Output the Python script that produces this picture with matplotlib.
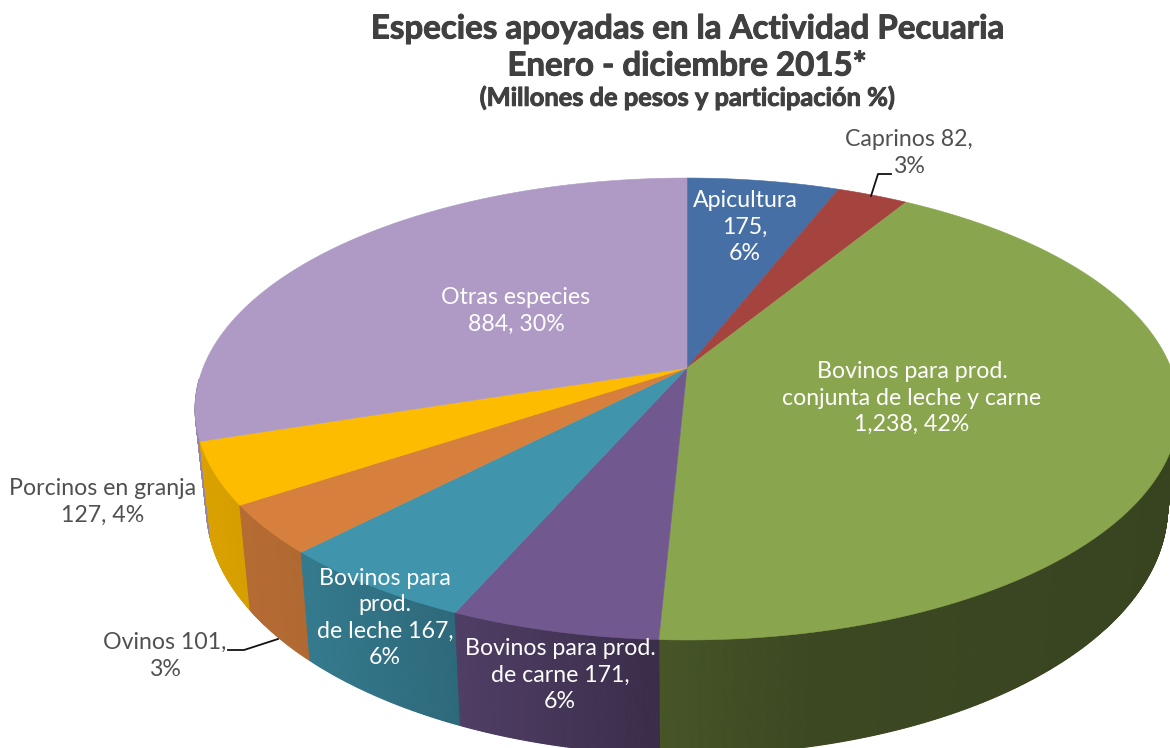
"""Especies apoyadas en la Actividad Pecuaria, 3D pie drawn with a perspective map."""

import numpy as np
import matplotlib
matplotlib.use("Agg")
import matplotlib.pyplot as plt
import matplotlib.patheffects as pe

categories = ["Apicultura", "Caprinos", "Bovinos para prod. conjunta de leche y carne",
              "Bovinos para prod. de carne", "Bovinos para prod. de leche",
              "Ovinos", "Porcinos en granja", "Otras especies"]
values = [175, 82, 1238, 171, 167, 101, 127, 884]
percents = [6, 3, 42, 6, 6, 3, 4, 30]
colors = ["#4670A5", "#A5433F", "#89A54E", "#71588F", "#4095AD", "#D7803D", "#FDBC00", "#AE9AC5"]

# perspective of the disc, in pixels of the 1170x748 image
CX, CY = 687, 368
A, B, P = 484, 223.7, 0.1775
SIDE_SX, SIDE_DY, SIDE_SY = 0.977, 463, 1.073
SHADE_X = [200, 300, 460, 650, 800, 1170]
SHADE_F = [0.86, 0.82, 0.70, 0.52, 0.44, 0.41]


def top_xy(t):
    # t in radians clockwise from 12 o'clock
    u, v = np.sin(t), -np.cos(t)
    d = 1 - P * v
    return CX + A * u / d, CY + B * v / d


def side_xy(t):
    x, y = top_xy(t)
    return CX + SIDE_SX * (x - CX), SIDE_DY + SIDE_SY * (y - CY)


def shade(color, f):
    return tuple(c * f for c in matplotlib.colors.to_rgb(color))


def main():
    plt.rcParams["font.family"] = ["Lato", "DejaVu Sans"]
    fig = plt.figure(figsize=(11.7, 7.48), dpi=100)
    ax = fig.add_axes([0, 0, 1, 1])
    ax.set_xlim(0, 1170)
    ax.set_ylim(748, 0)
    ax.axis("off")

    edges = np.concatenate([[0], np.cumsum(values)]) / np.sum(values) * 2 * np.pi

    # side wall first, back wedges before front ones, in thin strips for the shading
    mids = (edges[:-1] + edges[1:]) / 2
    for i in np.argsort(-np.cos(mids)):
        col = colors[i]
        ts = np.linspace(edges[i], edges[i + 1], max(2, int((edges[i + 1] - edges[i]) * 240)))
        for t0, t1 in zip(ts[:-1], ts[1:]):
            if -np.cos(t0) < 0.05 and -np.cos(t1) < 0.05:
                continue  # hidden behind the top face
            x0, y0 = top_xy(np.array([t0, t1]))
            x1, y1 = side_xy(np.array([t1, t0]))
            f = np.interp((x0[0] + x0[1]) / 2, SHADE_X, SHADE_F)
            ax.fill(np.r_[x0, x1], np.r_[y0, y1], color=shade(col, f), lw=0.8)

    # top face
    for i, col in enumerate(colors):
        ts = np.linspace(edges[i], edges[i + 1], 120)
        x, y = top_xy(ts)
        ax.fill(np.r_[CX, x], np.r_[CY, y], color=col, lw=0.4)

    # leader lines
    ax.plot([871, 878, 891], [196, 174, 174], color="#111111", lw=1.3)
    ax.plot([228, 244, 278], [650, 650, 639], color="#111111", lw=1.3)

    # data labels
    fs = 16.7
    white = dict(color="white", fontsize=fs, ha="center", va="center", linespacing=1.33)
    grey = dict(color="#505050", fontsize=fs, ha="center", va="center", linespacing=1.33)
    ax.text(745, 227, f"{categories[0]}\n{values[0]},\n{percents[0]}%", **white)
    ax.text(909, 153, f"{categories[1]} {values[1]},\n{percents[1]}%", **grey)
    ax.text(912, 398, f"Bovinos para prod.\nconjunta de leche y carne\n{values[2]:,}, {percents[2]}%", **white)
    ax.text(560, 675, f"Bovinos para prod.\nde carne {values[3]},\n{percents[3]}%", **white)
    ax.text(385, 618, f"Bovinos para\nprod.\nde leche {values[4]},\n{percents[4]}%", **white)
    ax.text(165, 656, f"{categories[5]} {values[5]},\n{percents[5]}%", **grey)
    ax.text(103, 502, f"{categories[6]}\n{values[6]}, {percents[6]}%", **grey)
    ax.text(516, 311, f"{categories[7]}\n{values[7]}, {percents[7]}%", **white)

    # title, thickened a little since the original face is heavier than Lato Bold
    title = "#404040"
    heavy = [pe.withStroke(linewidth=0.7, foreground=title)]
    ax.text(687, 29, "Especies apoyadas en la Actividad Pecuaria", color=title, fontsize=23.8,
            fontweight="bold", ha="center", va="center", path_effects=heavy)
    ax.text(687, 66, "Enero - diciembre 2015*", color=title, fontsize=23.8,
            fontweight="bold", ha="center", va="center", path_effects=heavy)
    ax.text(687, 98, "(Millones de pesos y participación %)", color=title, fontsize=18.3,
            fontweight="bold", ha="center", va="center", path_effects=heavy)

    fig.savefig("out.png", dpi=100)


if __name__ == "__main__":
    main()
